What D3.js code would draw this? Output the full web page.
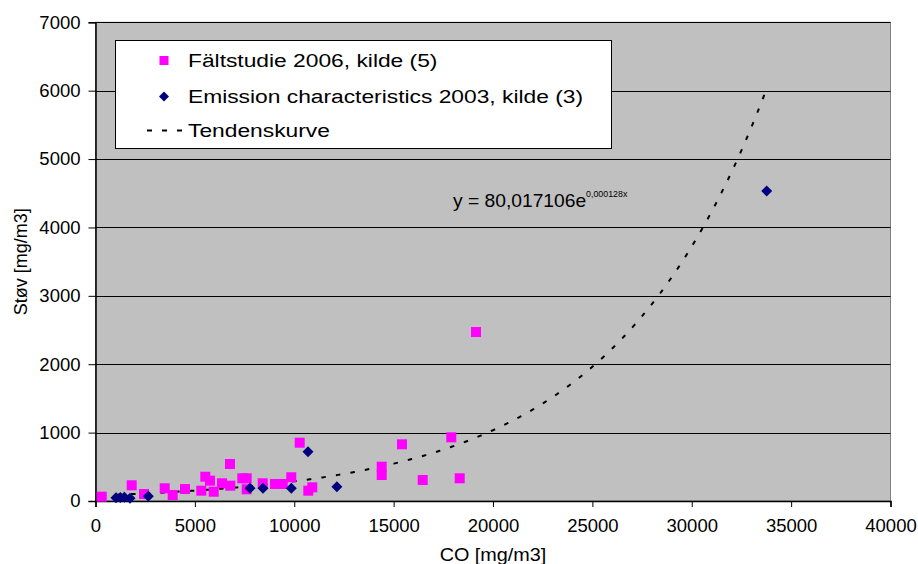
<!DOCTYPE html>
<html><head><meta charset="utf-8">
<script src="https://cdn.jsdelivr.net/npm/d3@7"></script>
<style>
body{margin:0;background:#fff;}
text{font-family:"Liberation Sans",Arial,sans-serif;fill:#000;}
</style></head>
<body><svg id="c" width="918" height="564"></svg>
<script>
// Data
const faltX = [312,1821,2440,3482,3884,4503,5323,5525,5761,5947,6365,6767,6782,7386,7607,7607,8413,9031,9419,9851,10274,10707,10908,14400,14400,15421,16463,17902,18325,19145];
const faltY = [63,230,102,186,88,175,151,355,297,136,259,541,224,332,332,171,259,249,249,347,852,151,200,502,380,829,307,931,332,2471];
const emisX = [1031,1250,1449,1736,2657,7774,8428,9851,10692,12145,33770];
const emisY = [48,52,54,39,69,186,186,186,721,209,4533];
const xTicks = [0,5000,10000,15000,20000,25000,30000,35000,40000];
const yTicks = [0,1000,2000,3000,4000,5000,6000,7000];
const trendA = 80.017106, trendB = 0.000128;
const legendLabels = ["Fältstudie 2006, kilde (5)","Emission characteristics 2003, kilde (3)","Tendenskurve"];
const xTitle = "CO [mg/m3]", yTitle = "Støv [mg/m3]";

const svg = d3.select("#c");
const L=95.5, R=890.5, T=22.3, B=501;
const x = d3.scaleLinear().domain([0,40000]).range([L,R]);
const y = d3.scaleLinear().domain([0,7000]).range([B,T]);

svg.append("rect").attr("x",L).attr("y",T).attr("width",R-L).attr("height",B-T)
  .attr("fill","#c0c0c0").attr("stroke","#808080").attr("stroke-width",1);

// gridlines
svg.append("g").selectAll("line").data(yTicks.filter(d=>d>0)).join("line")
  .attr("x1",L).attr("x2",R).attr("y1",d=>Math.round(y(d))+0.5).attr("y2",d=>Math.round(y(d))+0.5)
  .attr("stroke","#000").attr("stroke-width",1);

// axes
const xa = svg.append("g").attr("transform",`translate(0,${B})`)
  .call(d3.axisBottom(x).tickValues(xTicks).tickFormat(d3.format("d")).tickSize(6).tickPadding(12));
const ya = svg.append("g").attr("transform",`translate(${L},0)`)
  .call(d3.axisLeft(y).tickValues(yTicks).tickFormat(d3.format("d")).tickSize(7).tickPadding(8));
[xa,ya].forEach(g=>{
  g.select(".domain").attr("stroke","#000").attr("stroke-width",1.5);
  g.selectAll(".tick line").attr("stroke","#000");
  g.selectAll("text").attr("font-family","Liberation Sans, Arial, sans-serif").attr("font-size",18.5).attr("fill","#000");
});

// trendline
const xs = d3.range(d3.min(faltX.concat(emisX)), d3.max(faltX.concat(emisX))+1, 100);
svg.append("path").datum(xs)
  .attr("d", d3.line().x(d=>x(d)).y(d=>y(trendA*Math.exp(trendB*d))))
  .attr("fill","none").attr("stroke","#000").attr("stroke-width",2)
  .attr("stroke-dasharray","4.5,10.2");

// markers
svg.append("g").selectAll("rect").data(faltX.map((v,i)=>[v,faltY[i]])).join("rect")
  .attr("x",d=>x(d[0])-5).attr("y",d=>y(d[1])-5).attr("width",10).attr("height",10)
  .attr("fill","#ff00ff");
svg.append("g").selectAll("path").data(emisX.map((v,i)=>[v,emisY[i]])).join("path")
  .attr("transform",d=>`translate(${x(d[0])},${y(d[1])})`)
  .attr("d","M0,-5.5L5.5,0L0,5.5L-5.5,0Z").attr("fill","#000080");

// equation
const eq = svg.append("text").attr("transform","translate(453,207) scale(1.04,1)").attr("font-size",18.5);
eq.append("tspan").text("y = 80,017106e");
eq.append("tspan").attr("dy",-10).attr("font-size",8.5).text("0,000128x");

// legend
const lg = svg.append("g");
lg.append("rect").attr("x",115.5).attr("y",40.5).attr("width",496).attr("height",108)
  .attr("fill","#fff").attr("stroke","#000").attr("stroke-width",1);
const rows = [60.5, 96.5, 130.5];
lg.append("rect").attr("x",159.5).attr("y",rows[0]-4.5).attr("width",9).attr("height",9).attr("fill","#ff00ff");
lg.append("path").attr("transform",`translate(164,${rows[1]})`).attr("d","M0,-5L5,0L0,5L-5,0Z").attr("fill","#000080");
lg.append("line").attr("x1",147).attr("x2",183).attr("y1",rows[2]).attr("y2",rows[2])
  .attr("stroke","#000").attr("stroke-width",2).attr("stroke-dasharray","5,10");
lg.selectAll("text").data(legendLabels).join("text")
  .attr("transform",(d,i)=>`translate(188,${rows[i]}) scale(1.2,1)`)
  .attr("dy","0.35em").attr("font-size",19).text(d=>d);

// axis titles
svg.append("text").attr("transform",`translate(${(L+R)/2},561) scale(1.1,1)`).attr("text-anchor","middle").attr("font-size",18).text(xTitle);
svg.append("text").attr("transform",`translate(27,${(T+B)/2}) rotate(-90)`).attr("text-anchor","middle")
  .attr("font-size",18).text(yTitle);
</script></body></html>
